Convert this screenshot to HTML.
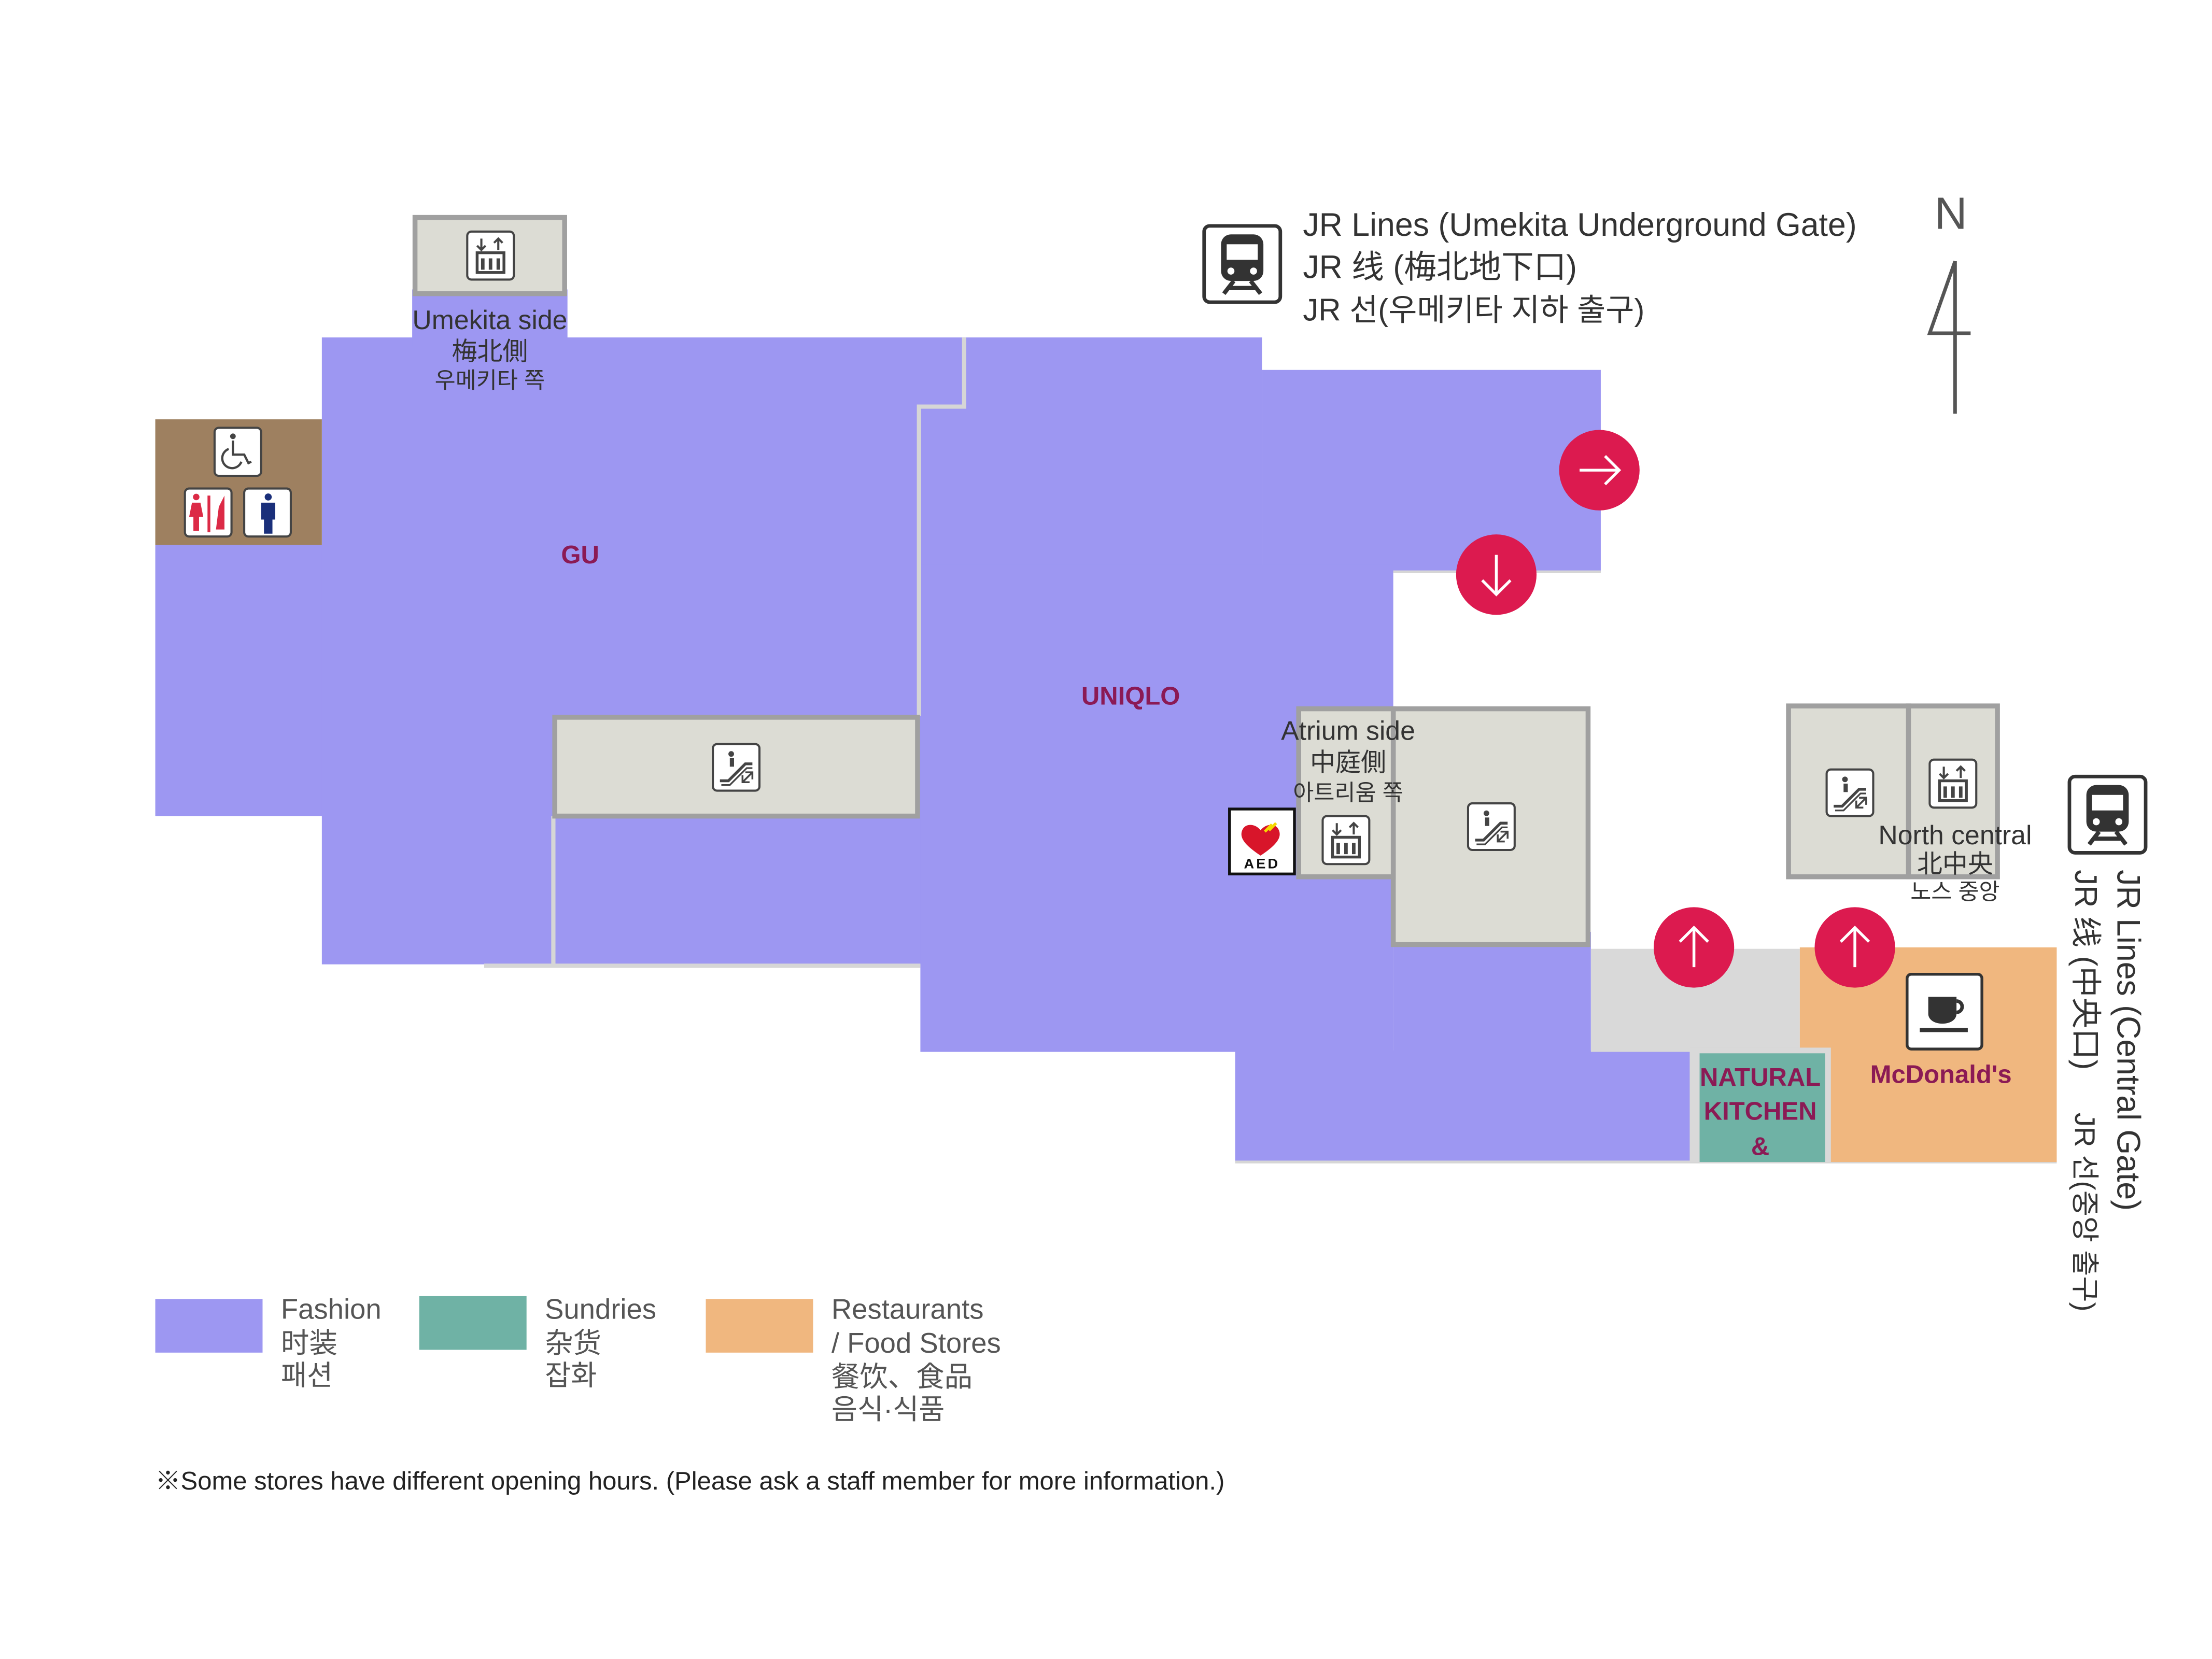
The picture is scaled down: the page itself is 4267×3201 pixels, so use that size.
<!DOCTYPE html>
<html><head><meta charset="utf-8"><style>
html,body{margin:0;padding:0;background:#fff;width:4267px;height:3201px;overflow:hidden}
svg{display:block}
text{font-family:"Liberation Sans","Noto Sans CJK JP",sans-serif}
</style></head><body>
<svg width="4267" height="3201" viewBox="0 0 1567 1175" preserveAspectRatio="none" xmlns="http://www.w3.org/2000/svg">
<defs>
<g id="elev">
<rect x="0" y="0" width="33" height="34" rx="3" fill="#fff" stroke="#444" stroke-width="1.5"/>
<path d="M10 5v8M7 10l3 3 3-3M22 13V5M19 8l3-3 3 3" stroke="#444" stroke-width="1.5" fill="none"/>
<rect x="7" y="15" width="19" height="14" fill="none" stroke="#444" stroke-width="2"/>
<path d="M11 19v8M16.5 19v8M22 19v8" stroke="#444" stroke-width="2.5"/>
</g>
<g id="esc">
<rect x="0" y="0" width="33" height="33" rx="3" fill="#fff" stroke="#444" stroke-width="1.5"/>
<path d="M5 26h6l12-12h5" stroke="#444" stroke-width="2" fill="none"/>
<path d="M6 29h6l12-12h4" stroke="#444" stroke-width="1.2" fill="none"/>
<circle cx="13" cy="7" r="2" fill="#444"/><path d="M12 10h3v6h-3z" fill="#444"/>
<path d="M21 27l7-7M21 22v5h5M28 25v-5h-5" stroke="#444" stroke-width="1.3" fill="none"/>
</g>
<g id="train">
<rect x="1" y="1" width="54" height="54" rx="4" fill="#fff" stroke="#333" stroke-width="2.5"/>
<rect x="13" y="7" width="30" height="33" rx="7" fill="#333"/>
<rect x="17" y="14" width="22" height="11" fill="#fff"/>
<circle cx="20" cy="33" r="2.5" fill="#fff"/><circle cx="36" cy="33" r="2.5" fill="#fff"/>
<path d="M15 49l7-9M41 49l-7-9M19 45h18" stroke="#333" stroke-width="3"/>
</g>
</defs>

<g fill="#9d97f2">
<rect x="110" y="386" width="120" height="192"/>
<rect x="228" y="239" width="666" height="444"/>
<rect x="894" y="262" width="240" height="143"/>
<rect x="652" y="400" width="335" height="345"/>
<rect x="875" y="744" width="325" height="79"/>
<rect x="987" y="660" width="140" height="90"/>
<rect x="292" y="205" width="110" height="40"/>
</g>
<rect x="110" y="297" width="118" height="89" fill="#9e8060"/>
<path d="M683 239V288H651V507M392 578V684M343 684H652" stroke="#d6d6d6" stroke-width="3" fill="none"/>
<path d="M987 405H1134M875 823H1457" stroke="#d6d6d6" stroke-width="2" fill="none"/>

<g fill="#dcdcd4" stroke="#a0a0a0" stroke-width="3.5">
<rect x="294" y="154" width="106" height="54"/>
<rect x="393" y="508" width="257" height="70"/>
<rect x="987" y="502" width="138" height="167"/>
<rect x="920" y="502" width="67" height="119"/>
<rect x="1267" y="500" width="85" height="121"/>
<rect x="1352" y="500" width="63" height="121"/>
</g>
<rect x="1127" y="672" width="148" height="73" fill="#d9d9d9"/>
<rect x="1275" y="671" width="182" height="152" fill="#f0b77f"/>
<rect x="1197" y="742" width="100" height="81" fill="#d9d9d9"/>
<rect x="1204" y="746" width="89" height="77" fill="#6fb2a5"/>

<use href="#elev" x="331" y="164"/>
<use href="#esc" x="505" y="527"/>
<use href="#elev" x="937" y="578"/>
<use href="#esc" x="1040" y="569"/>
<use href="#esc" x="1294" y="545"/>
<use href="#elev" x="1367" y="538"/>
<use href="#train" x="852" y="159"/>
<use href="#train" x="1465" y="549"/>

<rect x="152" y="303" width="33" height="34" rx="3" fill="#fff" stroke="#444" stroke-width="1.5"/>
<circle cx="165" cy="309" r="2" fill="#444"/>
<path d="M165 312v10h8l3 6 2-1M162 318a7 7 0 1 0 9 9" stroke="#444" stroke-width="1.6" fill="none"/>
<rect x="131" y="346" width="33" height="34" rx="3" fill="#fff" stroke="#444" stroke-width="1.5"/>
<circle cx="139" cy="352" r="2.3" fill="#dc2a46"/><path d="M136 356h6l2 10h-3v10h-4v-10h-3z" fill="#dc2a46"/>
<rect x="147" y="351" width="2" height="26" fill="#dc2a46"/><path d="M153 375l2-16 4-8v24z" fill="#dc2a46"/>
<rect x="173" y="346" width="33" height="34" rx="3" fill="#fff" stroke="#444" stroke-width="1.5"/>
<circle cx="190" cy="352" r="2.5" fill="#1a2f7a"/><path d="M185 356h10v12h-2v10h-6v-10h-2z" fill="#1a2f7a"/>

<rect x="871" y="573" width="46" height="46" fill="#fff" stroke="#111" stroke-width="2"/>
<path d="M893 606c-12-8-15-13-13-18 2-5 9-5 13 0 4-5 11-5 13 0 2 5-1 10-13 18z" fill="#d8152a"/>
<path d="M896 589l5-5-2 4 5-5" stroke="#f5d800" stroke-width="2" fill="none"/>
<text x="894" y="615" font-size="10" font-weight="bold" text-anchor="middle" fill="#111" letter-spacing="1.5">AED</text>

<rect x="1351" y="690" width="53" height="53" rx="3" fill="#fff" stroke="#333" stroke-width="2"/>
<path d="M1366 706h20v12c0 4-4 7-10 7s-10-3-10-7z" fill="#333"/>
<path d="M1386 709a4 4 0 0 1 0 8" stroke="#333" stroke-width="2.5" fill="none"/>
<rect x="1360" y="728" width="34" height="3" fill="#333"/>

<g fill="#dc1a4f"><circle cx="1133" cy="333" r="28.5"/><circle cx="1060" cy="407" r="28.5"/><circle cx="1200" cy="671" r="28.5"/><circle cx="1314" cy="671" r="28.5"/></g>
<g stroke="#fff" stroke-width="2" fill="none">
<path d="M1119 333h28M1137 323l10 10-10 10"/>
<path d="M1060 393v28M1050 411l10 10 10-10"/>
<path d="M1200 685v-28M1190 667l10-10 10 10"/>
<path d="M1314 685v-28M1304 667l10-10 10 10"/>
</g>

<text x="1382" y="162" font-size="32" text-anchor="middle" fill="#555">N</text>
<path d="M1385 185V293M1385 185L1367 236H1396" stroke="#555" stroke-width="2.5" fill="none"/>

<g fill="#333" text-anchor="middle">
<text x="347" y="233" font-size="19">Umekita side</text>
<text x="347" y="255" font-size="18">梅北側</text>
<text x="347" y="275" font-size="16">우메키타 쪽</text>
<text x="955" y="524" font-size="19">Atrium side</text>
<text x="955" y="546" font-size="18">中庭側</text>
<text x="955" y="567" font-size="16">아트리움 쪽</text>
<text x="1385" y="598" font-size="19">North central</text>
<text x="1385" y="618" font-size="18">北中央</text>
<text x="1385" y="637" font-size="16">노스 중앙</text>
</g>
<g fill="#8b1a55" font-weight="bold" text-anchor="middle" font-size="18">
<text x="411" y="399">GU</text>
<text x="801" y="499">UNIQLO</text>
<text x="1375" y="767">McDonald's</text>
<text x="1247" y="769">NATURAL</text>
<text x="1247" y="793">KITCHEN</text>
<text x="1247" y="818">&amp;</text>
</g>
<g fill="#333" font-size="23">
<text x="923" y="167">JR Lines (Umekita Underground Gate)</text>
<text x="923" y="197">JR 线 (梅北地下口)</text>
<text x="923" y="227" font-size="22">JR 선(우메키타 지하 출구)</text>
</g>
<text transform="translate(1500,616) rotate(90)" font-size="23" fill="#333">JR Lines (Central Gate)</text>
<text transform="translate(1470,616) rotate(90)" font-size="22" fill="#333">JR 线 (中央口)</text>
<text transform="translate(1470,788) rotate(90)" font-size="20" fill="#333">JR 선(중앙 출구)</text>

<rect x="110" y="920" width="76" height="38" fill="#9d97f2"/>
<rect x="297" y="918" width="76" height="38" fill="#6fb2a5"/>
<rect x="500" y="920" width="76" height="38" fill="#f0b77f"/>
<g fill="#555" font-size="20">
<text x="199" y="934">Fashion</text><text x="199" y="958">时装</text><text x="199" y="981">패션</text>
<text x="386" y="934">Sundries</text><text x="386" y="958">杂货</text><text x="386" y="981">잡화</text>
<text x="589" y="934">Restaurants</text><text x="589" y="958">/ Food Stores</text><text x="589" y="982">餐饮、食品</text><text x="589" y="1005">음식·식품</text>
</g>
<text x="110" y="1055" font-size="18" fill="#222">※Some stores have different opening hours. (Please ask a staff member for more information.)</text>
</svg>
</body></html>
